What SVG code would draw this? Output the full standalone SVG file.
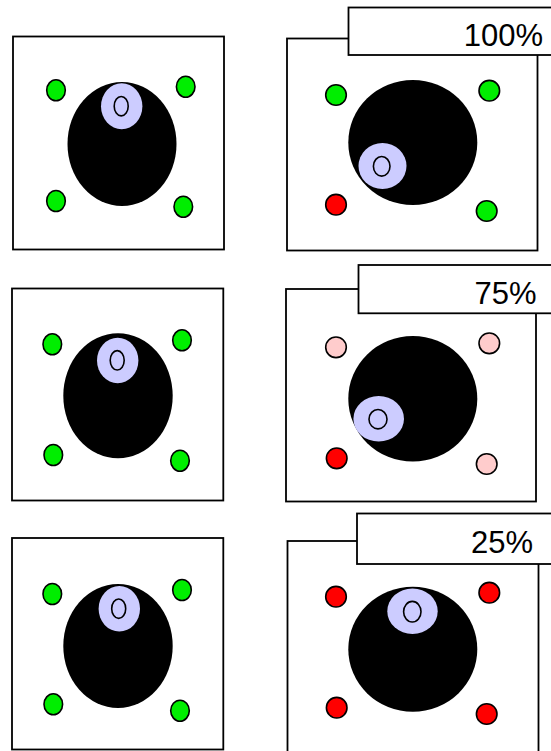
<svg xmlns="http://www.w3.org/2000/svg" width="551" height="751" viewBox="0 0 551 751">
<style>
.frame{fill:#fff;stroke:#000;stroke-width:1.8}
.body{fill:#000}
.halo{fill:#ccccff}
.eye{fill:none;stroke:#000;stroke-width:1.6}
.dot{stroke:#000;stroke-width:1.6}
.g{fill:#00ee00}
.r{fill:#ff0000}
.p{fill:#ffcccc}
.lbl{font-family:"Liberation Sans",Arial,sans-serif;font-size:31px;fill:#000;text-anchor:end}
</style>
<rect width="551" height="751" fill="#fff"/>
<g id="panel-left-1">
<rect class="frame" x="13" y="36.5" width="211" height="213"/>
<ellipse class="body" cx="122" cy="144" rx="54.5" ry="62"/>
<ellipse class="halo" cx="121.7" cy="106.3" rx="20.7" ry="23"/>
<ellipse class="eye" cx="121.2" cy="106.2" rx="7" ry="9.7"/>
<ellipse class="dot g" cx="56" cy="90.3" rx="9.3" ry="10.5"/>
<ellipse class="dot g" cx="185.7" cy="86.7" rx="9.3" ry="10.5"/>
<ellipse class="dot g" cx="56" cy="201" rx="9.3" ry="10.5"/>
<ellipse class="dot g" cx="183.3" cy="206.7" rx="9.3" ry="10.5"/>
</g>
<g id="panel-right-1">
<rect class="frame" x="287" y="38.5" width="250.5" height="212"/>
<ellipse class="body" cx="412.8" cy="142.5" rx="64.5" ry="62.5"/>
<ellipse class="halo" cx="382.5" cy="166" rx="24" ry="23"/>
<ellipse class="eye" cx="381.7" cy="166.3" rx="8.3" ry="9.8"/>
<circle class="dot g" cx="336" cy="95" r="10.3"/>
<circle class="dot g" cx="489.3" cy="90.7" r="10.3"/>
<circle class="dot r" cx="336" cy="204.7" r="10.3"/>
<circle class="dot g" cx="486.7" cy="211" r="10.3"/>
<rect class="frame" x="348.5" y="7.5" width="210" height="47.5"/>
<text class="lbl" x="543" y="46">100%</text>
</g>
<g id="panel-left-2">
<rect class="frame" x="12" y="288.5" width="211.3" height="212"/>
<ellipse class="body" cx="118" cy="395.8" rx="54.7" ry="62.5"/>
<ellipse class="halo" cx="117.7" cy="360.5" rx="20.7" ry="22.8"/>
<ellipse class="eye" cx="117.2" cy="360.3" rx="7" ry="9.7"/>
<ellipse class="dot g" cx="52.3" cy="344.3" rx="9.3" ry="10.5"/>
<ellipse class="dot g" cx="182" cy="340.3" rx="9.3" ry="10.5"/>
<ellipse class="dot g" cx="53.3" cy="455" rx="9.3" ry="10.5"/>
<ellipse class="dot g" cx="180" cy="460.7" rx="9.3" ry="10.5"/>
</g>
<g id="panel-right-2">
<rect class="frame" x="286" y="289" width="250" height="212.5"/>
<ellipse class="body" cx="412.8" cy="398.8" rx="64.5" ry="62.8"/>
<ellipse class="halo" cx="378.7" cy="418.8" rx="25.3" ry="22.8"/>
<ellipse class="eye" cx="378" cy="419.2" rx="9" ry="9.7"/>
<circle class="dot p" cx="336" cy="347.3" r="10.3"/>
<circle class="dot p" cx="489.3" cy="343.3" r="10.3"/>
<circle class="dot r" cx="336.7" cy="458.3" r="10.3"/>
<circle class="dot p" cx="486.7" cy="464" r="10.3"/>
<rect class="frame" x="358.5" y="265" width="200" height="48.3"/>
<text class="lbl" x="536.5" y="304">75%</text>
</g>
<g id="panel-left-3">
<rect class="frame" x="12" y="538" width="211.3" height="211.5"/>
<ellipse class="body" cx="118" cy="646" rx="54.7" ry="62"/>
<ellipse class="halo" cx="119.3" cy="608.8" rx="20.7" ry="22.8"/>
<ellipse class="eye" cx="118.7" cy="608.7" rx="7" ry="9.7"/>
<ellipse class="dot g" cx="52.3" cy="594" rx="9.3" ry="10.5"/>
<ellipse class="dot g" cx="182" cy="590" rx="9.3" ry="10.5"/>
<ellipse class="dot g" cx="53.3" cy="704.3" rx="9.3" ry="10.5"/>
<ellipse class="dot g" cx="180" cy="710.7" rx="9.3" ry="10.5"/>
</g>
<g id="panel-right-3">
<rect class="frame" x="287.5" y="541" width="251" height="220"/>
<ellipse class="body" cx="412.8" cy="649.2" rx="64.5" ry="62.5"/>
<ellipse class="halo" cx="412.5" cy="611.2" rx="25.2" ry="22.8"/>
<ellipse class="eye" cx="412.3" cy="611.7" rx="8.7" ry="10.3"/>
<circle class="dot r" cx="336" cy="596.7" r="10.3"/>
<circle class="dot r" cx="489.3" cy="592.7" r="10.3"/>
<circle class="dot r" cx="336.7" cy="707.7" r="10.3"/>
<circle class="dot r" cx="486.7" cy="714" r="10.3"/>
<rect class="frame" x="357" y="513.5" width="200" height="50.5"/>
<text class="lbl" x="533" y="553">25%</text>
</g>
<g id="connectors"/>
</svg>
